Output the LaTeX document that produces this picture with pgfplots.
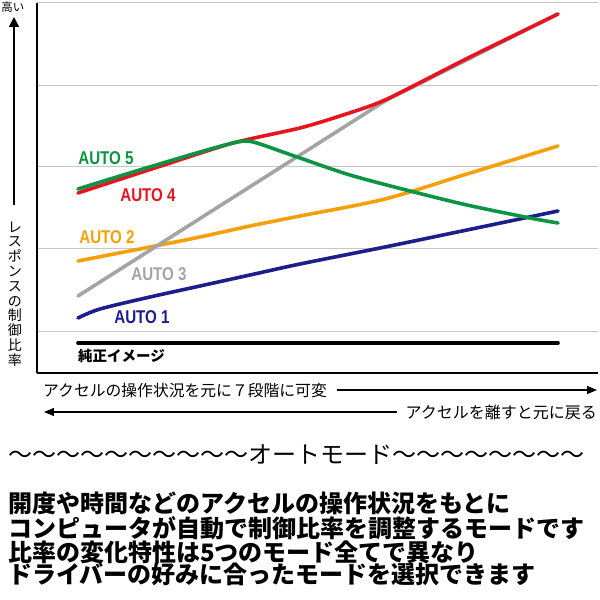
\documentclass[border=0pt]{standalone}
\usepackage{pgfplots}
\pgfplotsset{compat=1.18}
\usepackage{graphicx}
\usepackage{fontspec}
\usetikzlibrary{arrows.meta}
\setmainfont{Liberation Sans}
\newfontfamily\jp{Noto Sans CJK JP}

\definecolor{autored}{HTML}{E6141E}
\definecolor{autogreen}{HTML}{0B9444}
\definecolor{autoorange}{HTML}{F5A00A}
\definecolor{autogray}{HTML}{A4A4A4}
\definecolor{autonavy}{HTML}{1C1F8A}
\newcommand\autofont{\bfseries\fontsize{18.5}{18.5}\selectfont}

\begin{document}
\begin{tikzpicture}
\path[use as bounding box] (0pt,0pt) rectangle (600pt,600pt);
\begin{axis}[
    at={(37pt,227pt)}, anchor=south west,
    scale only axis, width=561pt, height=370pt,
    xmin=37, xmax=598, ymin=227, ymax=597,
    axis x line*=bottom, axis y line*=left,
    axis line style={line width=1.4pt, black, -},
    xtick=\empty,
    ytick={269,351,433,514,597}, yticklabels={,,,,},
    y tick label style={text opacity=0},
    major tick length=0pt,
    ymajorgrids, grid style={line width=1pt, black!22},
    clip=false,
    every axis plot/.append style={line width=3.6pt, line cap=round, line join=round},
]
% 純正イメージ
\addplot[black] coordinates {(78,257) (558,257)};
% AUTO 1
\addplot[autonavy, smooth, tension=0.5] coordinates {
    (78,282) (100,291) (150,303) (200,314) (250,325) (300,336) (385,353) (467,370) (558,389)};
% AUTO 2
\addplot[autoorange, smooth, tension=0.5] coordinates {
    (78,339) (150,353) (200,363) (250,374) (300,384) (385,401) (467,426) (558,454)};
% AUTO 3
\addplot[autogray] coordinates {(78,304) (385,499) (558,586)};
% AUTO 4
\addplot[autored, smooth, tension=0.4] coordinates {
    (78,407) (167,436) (233,457) (300,472) (340,484) (385,500) (470,543) (558,586)};
% AUTO 5
\addplot[autogreen, smooth, tension=0.5] coordinates {
    (78,411) (133,428) (200,448) (233,457) (247,459) (260,456) (280,449) (300,442)
    (350,425) (410,409) (467,395) (530,382) (558,377)};

\node[autogreen, font=\autofont] at (axis cs:106,442) {\scalebox{0.82}[1]{AUTO 5}};
\node[autored, font=\autofont] at (axis cs:148,405) {\scalebox{0.82}[1]{AUTO 4}};
\node[autoorange, font=\autofont] at (axis cs:107,363) {\scalebox{0.82}[1]{AUTO 2}};
\node[autogray, font=\autofont] at (axis cs:159,326) {\scalebox{0.82}[1]{AUTO 3}};
\node[autonavy, font=\autofont] at (axis cs:142,283) {\scalebox{0.82}[1]{AUTO 1}};
\node[anchor=west, inner sep=0pt, font=\jp\bfseries\fontsize{14.5}{14.5}\selectfont]
    at (axis cs:78,244) {純正イメージ};

% y axis caption
\node[inner sep=0pt, font=\jp\fontsize{11.5}{11.5}\selectfont] at (axis cs:13,593) {高い};
\draw[line width=1.5pt, -{Triangle[length=10pt,width=10pt]}] (axis cs:14,395) -- (axis cs:14,583);
\node[inner sep=0pt, align=center, font=\jp\fontsize{14}{14.8}\selectfont] at (axis cs:15,306)
    {レ\\ス\\ポ\\ン\\ス\\の\\制\\御\\比\\率};

% x axis captions
\node[anchor=west, inner sep=0pt, font=\jp\fontsize{15.8}{15.8}\selectfont] at (axis cs:43,209)
    {アクセルの操作状況を元に７段階に可変};
\draw[line width=1.2pt, -{Triangle[length=10pt,width=8pt]}] (axis cs:337,210) -- (axis cs:597,210);
\draw[line width=1.2pt, -{Triangle[length=10pt,width=8pt]}] (axis cs:397,188) -- (axis cs:44,188);
\node[anchor=east, inner sep=0pt, font=\jp\fontsize{16}{16}\selectfont] at (axis cs:597,188)
    {アクセルを離すと元に戻る};

% description
\node[anchor=west, inner sep=0pt, font=\jp\fontsize{24}{24}\selectfont] at (axis cs:8,145)
    {～～～～～～～～～～オートモード～～～～～～～～};
\node[anchor=west, inner sep=0pt, font=\jp\bfseries\fontsize{24}{24}\selectfont] at (axis cs:8,97)
    {開度や時間などのアクセルの操作状況をもとに};
\node[anchor=west, inner sep=0pt, font=\jp\bfseries\fontsize{24}{24}\selectfont] at (axis cs:8,72)
    {コンピュータが自動で制御比率を調整するモードです};
\node[anchor=west, inner sep=0pt, font=\jp\bfseries\fontsize{24}{24}\selectfont] at (axis cs:8,48)
    {比率の変化特性は5つのモード全てで異なり};
\node[anchor=west, inner sep=0pt, font=\jp\bfseries\fontsize{24}{24}\selectfont] at (axis cs:8,26)
    {ドライバーの好みに合ったモードを選択できます};
\end{axis}
\end{tikzpicture}
\end{document}
